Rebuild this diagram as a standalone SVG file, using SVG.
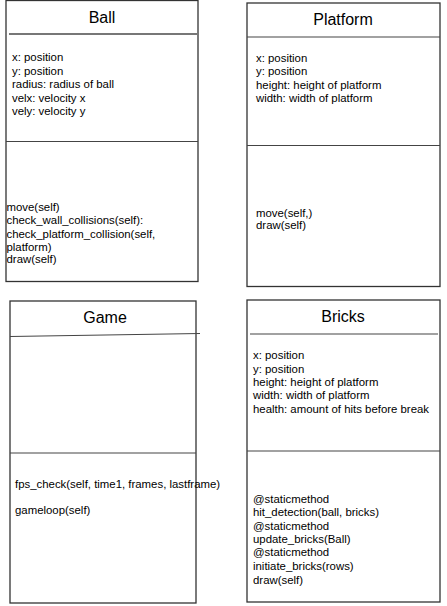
<svg xmlns="http://www.w3.org/2000/svg" width="447" height="606" viewBox="0 0 447 606">
<style>
.box{fill:#fff;stroke:#333;stroke-width:1.3}
.div{stroke:#444;stroke-width:1.2;fill:none}
.tl{stroke:#777;stroke-width:2;fill:none}
.title{font-family:"Liberation Sans",Arial,sans-serif;font-size:16px;fill:#000;text-anchor:middle}
.t{font-family:"Liberation Sans",Arial,sans-serif;font-size:11.4px;fill:#000}
</style>
<rect width="447" height="606" fill="#fff"/>
<g id="ball">
<rect class="box" x="6" y="0.5" width="192" height="281"/>
<line class="tl" x1="9" y1="34" x2="197" y2="34"/>
<line class="div" x1="6" y1="141.5" x2="198" y2="141.5"/>
<text class="title" x="102" y="23">Ball</text>
<text class="t" x="12" y="61">x: position</text>
<text class="t" x="12" y="75">y: position</text>
<text class="t" x="12" y="88">radius: radius of ball</text>
<text class="t" x="12" y="102">velx: velocity x</text>
<text class="t" x="12" y="115">vely: velocity y</text>
<text class="t" x="6.5" y="211">move(self)</text>
<text class="t" x="6.5" y="224">check_wall_collisions(self):</text>
<text class="t" x="6.5" y="238">check_platform_collision(self,</text>
<text class="t" x="6.5" y="251">platform)</text>
<text class="t" x="6.5" y="263">draw(self)</text>
</g>
<g id="platform">
<rect class="box" x="247" y="3" width="193" height="283.5"/>
<line class="div" x1="247" y1="37" x2="440" y2="37"/>
<line class="div" x1="247" y1="145.5" x2="440" y2="145.5"/>
<text class="title" x="343" y="25">Platform</text>
<text class="t" x="256" y="62">x: position</text>
<text class="t" x="256" y="75">y: position</text>
<text class="t" x="256" y="89">height: height of platform</text>
<text class="t" x="256" y="102">width: width of platform</text>
<text class="t" x="256" y="217">move(self,)</text>
<text class="t" x="256" y="229">draw(self)</text>
</g>
<g id="game">
<rect class="box" x="10" y="301" width="186" height="302"/>
<line class="div" x1="10" y1="336.5" x2="200" y2="333.5"/>
<line class="div" x1="10" y1="453" x2="196" y2="453"/>
<text class="title" x="105" y="323">Game</text>
<text class="t" x="15" y="488">fps_check(self, time1, frames, lastframe)</text>
<text class="t" x="15" y="514">gameloop(self)</text>
</g>
<g id="bricks">
<rect class="box" x="247" y="300" width="193" height="302"/>
<line class="div" x1="250" y1="334" x2="438" y2="334"/>
<line class="div" x1="247" y1="451" x2="440" y2="451"/>
<text class="title" x="343" y="322">Bricks</text>
<text class="t" x="253" y="359">x: position</text>
<text class="t" x="253" y="373">y: position</text>
<text class="t" x="253" y="386">height: height of platform</text>
<text class="t" x="253" y="399">width: width of platform</text>
<text class="t" x="253" y="413">health: amount of hits before break</text>
<text class="t" x="253" y="503">@staticmethod</text>
<text class="t" x="253" y="516">hit_detection(ball, bricks)</text>
<text class="t" x="253" y="530">@staticmethod</text>
<text class="t" x="253" y="543">update_bricks(Ball)</text>
<text class="t" x="253" y="556">@staticmethod</text>
<text class="t" x="253" y="570">initiate_bricks(rows)</text>
<text class="t" x="253" y="584">draw(self)</text>
</g>
<g id="connectors"></g>
</svg>
